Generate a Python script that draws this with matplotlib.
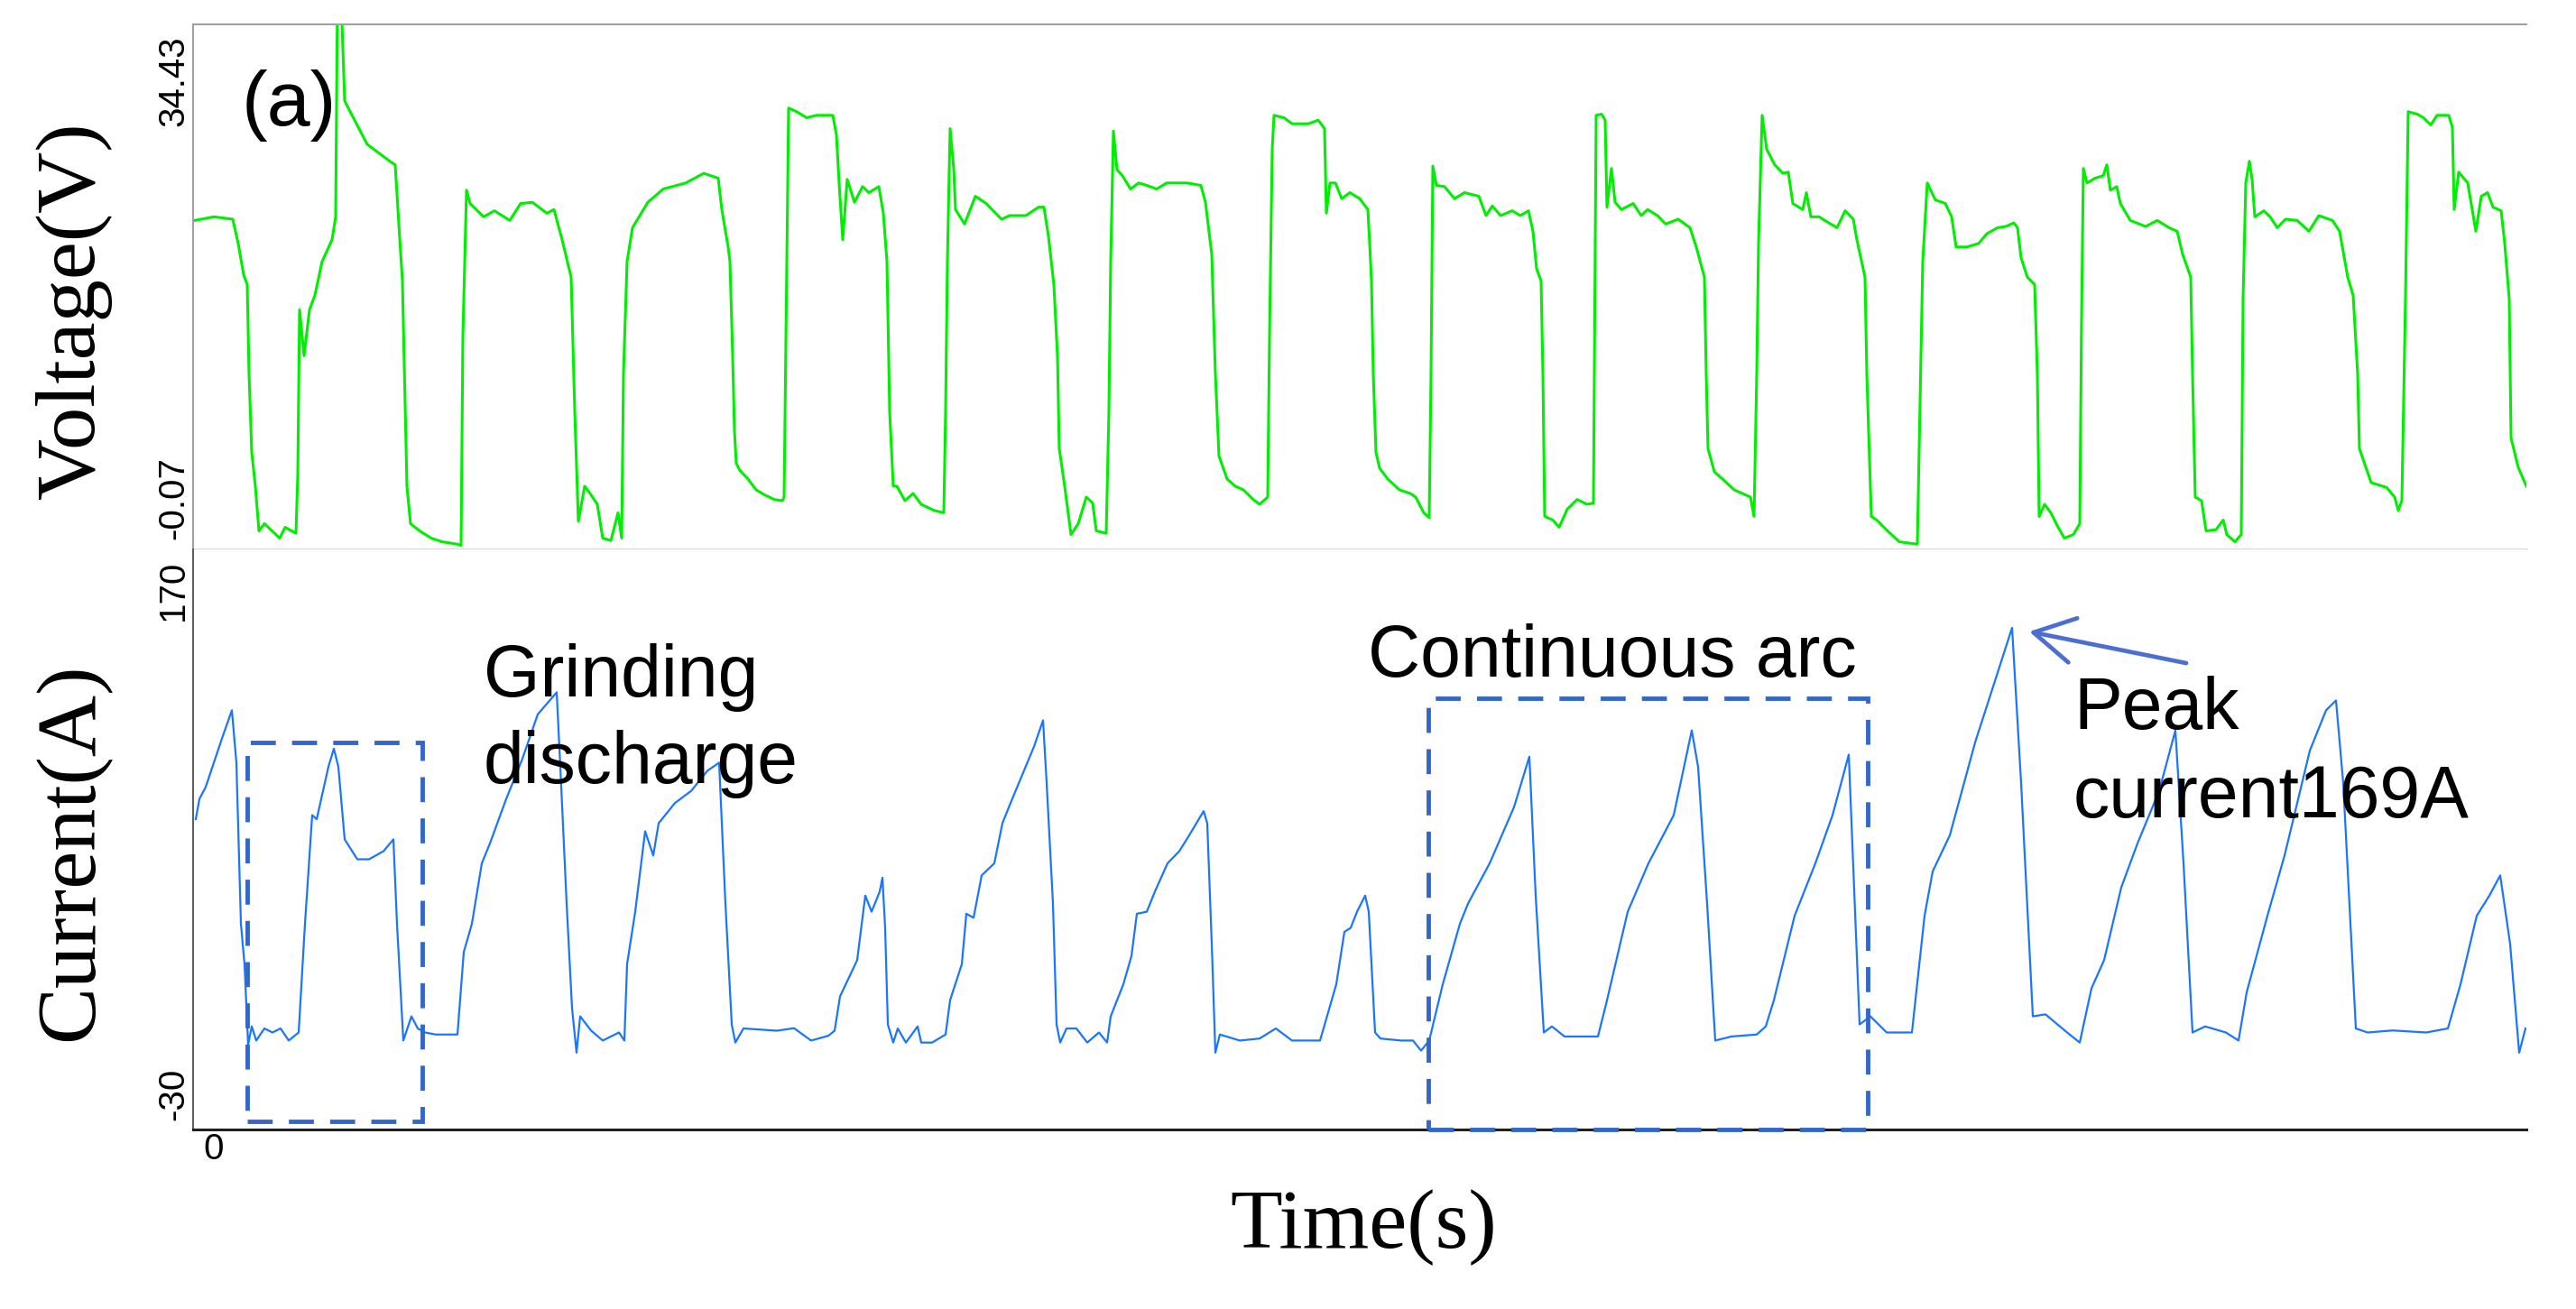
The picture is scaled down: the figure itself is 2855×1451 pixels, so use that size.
import matplotlib.pyplot as plt
from matplotlib.patches import Rectangle

W, H = 2855, 1451

# voltage trace, time in ms
v_time = [-2.1, 0.0, 2.1, 2.7, 3.3, 3.7, 3.9, 4.2, 4.6, 5.0, 5.6, 7.3, 7.9, 9.1, 9.3, 9.5, 10.0,
          10.6, 11.2, 12.0, 13.1, 13.5, 13.7, 14.1, 14.5, 14.9, 17.0, 19.5, 20.1, 20.5, 20.9, 21.4,
          21.8, 22.8, 24.1, 25.3, 27.0, 27.4, 27.6, 28.0, 28.4, 29.9, 31.1, 32.8, 34.0, 35.3, 36.9,
          37.7, 38.6, 39.6, 40.0, 40.4, 41.1, 41.7, 42.5, 43.1, 44.0, 44.8, 45.2, 45.4, 45.8, 46.4,
          48.1, 49.8, 52.3, 54.3, 55.9, 56.3, 57.0, 57.2, 57.5, 57.7, 57.9, 58.3, 59.2, 60.1, 61.0,
          62.1, 63.0, 63.2, 63.5, 63.7, 64.6, 65.7, 66.8, 68.6, 69.0, 69.3, 69.7, 70.2, 71.0, 71.9,
          72.6, 73.7, 74.2, 74.6, 74.9, 75.3, 75.7, 76.6, 77.5, 78.4, 79.8, 80.9, 81.1, 81.3, 81.6,
          82.0, 82.2, 83.2, 84.4, 85.6, 87.3, 88.2, 90.0, 91.4, 92.0, 92.5, 93.1, 93.5, 93.7, 94.3,
          95.0, 95.8, 96.7, 97.4, 97.8, 98.9, 99.2, 99.4, 99.7, 100.1, 100.7, 101.6, 102.5, 103.4,
          104.5, 105.6, 107.9, 109.4, 109.9, 110.6, 111.0, 111.4, 112.3, 113.2, 114.1, 115.2, 115.9,
          116.8, 117.0, 117.3, 117.5, 118.6, 119.5, 121.3, 122.4, 123.1, 123.3, 123.7, 124.3, 125.0,
          125.9, 127.0, 127.9, 128.1, 128.3, 128.5, 128.8, 129.2, 130.1, 131.4, 132.6, 133.2, 134.1,
          134.7, 134.9, 135.1, 135.5, 136.4, 137.5, 138.6, 140.2, 141.0, 141.7, 142.6, 143.9, 144.8,
          145.7, 146.2, 146.6, 147.1, 147.3, 147.5, 148.4, 149.1, 150.0, 151.1, 152.2, 152.9, 153.0,
          153.2, 153.8, 154.2, 154.4, 154.9, 155.3, 156.0, 157.3, 158.2, 158.9, 160.0, 160.9, 162.3,
          163.6, 164.3, 165.2, 165.4, 165.6, 166.3, 167.2, 168.5, 169.4, 170.3, 170.7, 171.0, 171.2,
          171.6, 172.1, 173.0, 173.9, 174.5, 175.0, 176.1, 176.5, 177.0, 177.9, 179.2, 179.9, 180.8,
          181.7, 182.1, 183.0, 183.2, 183.7, 184.3, 185.5, 186.8, 188.8, 189.0, 189.4, 189.9, 190.8,
          191.9, 192.6, 193.1, 194.3, 195.6, 196.5, 197.7, 198.6, 199.5, 199.9, 200.3, 201.0, 201.8,
          202.1, 202.3, 202.9, 203.6, 204.4, 205.1, 206.1, 206.8, 207.0, 207.2, 207.6, 208.5, 209.4,
          209.8, 210.2, 210.9, 211.3, 212.4, 214.1, 215.4, 216.7, 217.6, 218.2, 219.1, 219.3, 219.6,
          220.3, 220.8, 221.9, 222.7, 223.1, 224.0, 224.7, 224.9, 225.2, 225.6, 225.9, 226.2, 227.2,
          227.9, 228.7, 229.6, 230.9, 232.2, 233.3, 234.8, 235.6, 236.5, 237.1, 237.6, 237.8, 239.1,
          240.8, 241.7, 242.1, 242.5, 242.9, 243.2, 244.2, 244.9, 245.7, 246.4, 247.7, 248.1, 248.3,
          248.8, 249.8, 250.7, 251.3, 252.0, 252.6, 253.5, 253.9, 254.4, 254.6, 255.4, 256.3]
voltage = [22.9, 23.2, 23.0, 21.0, 18.4, 17.6, 10.2, 3.7, 0.9, -2.8, -2.2, -3.4, -2.5, -3.0, 1.8,
           15.5, 11.7, 15.5, 16.7, 19.5, 21.3, 23.2, 41.5, 41.5, 32.8, 32.2, 29.2, 27.8, 27.5, 22.6,
           17.9, 0.9, -2.2, -2.8, -3.4, -3.7, -3.9, -4.0, 13.3, 25.4, 24.3, 23.2, 23.7, 22.9, 24.3,
           24.4, 23.5, 23.8, 21.3, 18.2, 7.1, -2.0, 0.9, 0.3, -0.6, -3.4, -3.6, -1.3, -3.4, 10.2,
           19.5, 22.3, 24.4, 25.5, 26.0, 26.8, 26.4, 23.8, 20.7, 19.5, 11.7, 5.5, 2.8, 2.2, 1.5,
           0.6, 0.2, -0.2, -0.3, 0.0, 19.5, 32.2, 31.9, 31.4, 31.6, 31.6, 30.0, 26.0, 21.3, 26.3,
           24.4, 25.7, 25.2, 25.7, 23.5, 19.5, 7.1, 0.9, 0.9, -0.3, 0.3, -0.6, -1.1, -1.3, 7.1,
           19.5, 30.5, 27.2, 23.8, 22.6, 24.9, 24.3, 23.0, 23.3, 23.3, 24.0, 24.0, 21.6, 17.6, 11.7,
           4.0, 0.9, -3.1, -2.2, 0.0, -0.5, -2.8, -3.0, 7.1, 19.5, 30.3, 27.1, 26.6, 25.5, 26.0,
           25.8, 25.5, 26.0, 26.0, 25.8, 24.4, 20.1, 10.2, 3.4, 1.5, 0.9, 0.6, -0.2, -0.6, 0.0,
           13.3, 28.8, 31.6, 31.4, 30.9, 30.9, 31.2, 30.5, 23.5, 26.0, 26.0, 24.7, 25.2, 24.7, 23.8,
           21.0, 17.9, 10.2, 3.7, 2.4, 1.5, 0.6, 0.3, 0.0, -1.3, -1.7, 10.2, 27.4, 25.8, 25.7, 24.7,
           25.2, 24.9, 23.3, 24.1, 23.3, 23.7, 23.3, 23.7, 22.0, 18.9, 17.9, 10.2, -1.6, -1.9, -2.5,
           -1.0, -0.2, -0.6, -0.5, 10.2, 31.6, 31.7, 31.2, 24.0, 27.2, 24.4, 23.8, 24.3, 23.3, 23.8,
           23.3, 22.6, 23.0, 22.3, 20.7, 18.2, 10.2, 4.0, 2.1, 1.5, 0.6, 0.3, 0.0, -1.6, 10.2, 21.0,
           31.6, 28.8, 27.5, 26.8, 26.9, 24.3, 23.8, 25.2, 23.2, 23.2, 22.6, 22.3, 23.7, 23.0, 21.3,
           18.2, 10.2, -1.6, -1.9, -2.8, -3.7, -3.9, 4.0, 19.5, 26.0, 24.6, 24.3, 23.2, 20.7, 20.7,
           21.0, 21.8, 22.3, 22.4, 22.7, 22.3, 19.8, 18.2, 17.6, 10.2, -1.6, -0.6, -1.3, -2.5, -3.4,
           -3.1, -2.2, 14.8, 27.2, 26.0, 26.4, 26.6, 27.5, 25.4, 25.7, 24.3, 22.9, 22.4, 22.9, 22.3,
           22.0, 20.1, 18.2, 10.2, 0.0, -0.3, -2.8, -2.7, -1.9, -3.1, -3.7, -3.1, 16.4, 26.0, 27.8,
           26.3, 23.2, 23.7, 23.2, 22.3, 23.0, 22.9, 22.0, 23.3, 22.9, 22.0, 18.2, 16.7, 10.2, 4.0,
           1.2, 0.8, 0.0, -1.1, -0.3, 16.4, 31.9, 31.7, 31.4, 30.8, 31.6, 31.6, 30.6, 23.8, 26.9,
           26.0, 22.0, 24.9, 25.2, 24.0, 23.7, 21.0, 16.4, 4.9, 2.45, 0.9]

# current trace
c_time = [-2.0, -1.6, -0.9, 0.0, 0.9, 2.0, 2.5, 3.0, 3.4, 3.8, 4.2, 4.7, 5.6, 6.5, 7.4, 8.3, 9.4,
          10.1, 10.9, 11.4, 12.1, 12.7, 13.3, 13.8, 14.5, 15.9, 17.2, 18.8, 19.9, 20.3, 21.0, 21.9,
          22.6, 23.4, 24.6, 27.0, 27.7, 28.6, 29.7, 30.6, 32.4, 34.2, 35.9, 38.0, 38.4, 39.1, 39.7,
          40.2, 40.6, 41.8, 43.1, 44.9, 45.5, 45.8, 46.7, 47.8, 48.7, 49.3, 51.1, 52.9, 54.7, 56.0,
          56.7, 57.4, 57.8, 58.7, 62.4, 64.3, 66.2, 68.1, 68.8, 69.4, 71.3, 72.2, 72.9, 73.8, 74.1,
          74.4, 74.7, 75.3, 75.8, 76.7, 78.0, 78.4, 79.6, 81.1, 81.6, 82.9, 83.4, 84.2, 85.1, 86.5,
          87.4, 88.3, 89.6, 90.9, 91.9, 92.3, 93.0, 93.4, 93.8, 94.5, 95.6, 96.8, 98.1, 99.0, 99.4,
          100.8, 101.7, 102.3, 103.4, 104.3, 105.7, 107.0, 108.1, 109.7, 110.1, 110.6, 111.0, 111.5,
          113.7, 115.9, 117.7, 119.5, 122.6, 123.5, 124.4, 125.3, 126.0, 126.7, 127.6, 128.0, 128.7,
          129.3, 131.6, 132.9, 133.8, 134.7, 136.2, 138.1, 139.0, 141.4, 144.1, 145.8, 146.5, 147.4,
          148.3, 149.7, 153.4, 154.3, 156.7, 159.0, 161.8, 163.8, 164.5, 165.5, 166.4, 168.2, 171.0,
          172.0, 172.9, 175.2, 177.5, 179.4, 181.2, 182.4, 183.6, 185.4, 188.2, 189.6, 190.5, 192.4,
          195.2, 199.3, 200.3, 201.6, 203.0, 205.4, 206.8, 208.1, 209.5, 211.4, 213.2, 215.6, 217.4,
          218.3, 219.3, 220.7, 223.0, 224.4, 225.3, 227.6, 229.5, 232.3, 234.1, 235.2, 236.0, 237.4,
          238.7, 241.5, 245.2, 247.6, 249.0, 250.8, 252.2, 253.4, 254.5, 255.5, 256.2]
current = [79.1, 87.1, 91.9, 101.5, 111.1, 122.3, 101.5, 37.6, 21.6, -10.3, -3.1, -8.7, -3.9, -5.5,
           -3.9, -8.7, -5.5, 37.6, 80.7, 79.1, 90.3, 99.9, 107.1, 99.9, 71.1, 63.2, 63.2, 66.4, 71.1,
           37.6, -8.7, 0.9, -3.9, -5.5, -6.3, -6.3, 26.4, 37.6, 61.6, 69.5, 87.1, 103.1, 120.7, 129.4,
           99.9, 45.6, 4.1, -13.5, 0.9, -4.7, -8.7, -5.5, -8.7, 21.6, 42.4, 74.3, 64.7, 77.5, 85.5,
           90.3, 98.3, 101.5, 45.6, -2.3, -9.5, -3.9, -4.8, -3.8, -8.7, -6.8, -4.8, 8.8, 23.2, 48.8,
           42.4, 50.4, 55.9, 36.0, -2.3, -9.5, -3.9, -9.5, -3.1, -9.5, -9.5, -6.3, 7.3, 21.6, 41.6,
           40.0, 56.8, 61.6, 77.5, 85.5, 96.7, 107.9, 118.3, 93.5, 45.6, -2.3, -9.5, -3.9, -3.9, -9.5,
           -5.5, -9.5, 0.9, 13.6, 24.8, 41.6, 42.4, 50.4, 61.6, 66.4, 72.7, 82.3, 77.5, 29.6, -13.5,
           -6.3, -8.7, -7.9, -3.9, -8.7, -8.7, 2.5, 13.6, 34.4, 36.0, 42.4, 48.8, 42.4, -5.5, -7.9,
           -8.7, -8.7, -12.7, -8.7, 13.6, 37.6, 45.6, 61.6, 83.9, 103.9, 48.8, -5.5, -3.1, -7.1, -7.1,
           5.7, 42.4, 61.6, 80.7, 114.3, 99.9, 45.6, -8.7, -7.1, -6.3, -3.1, 7.3, 40.8, 61.6, 80.7,
           104.7, -2.3, 0.9, -5.5, -5.5, 40.8, 58.4, 72.7, 109.5, 155.0, 93.5, 0.9, 1.7, -5.5, -9.5,
           12.0, 23.2, 52.0, 69.5, 90.3, 114.3, 61.6, -5.5, -3.1, -5.5, -8.7, 10.4, 40.8, 64.7, 106.3,
           122.3, 126.2, 93.5, -3.9, -5.5, -4.7, -5.5, -3.9, 13.6, 40.8, 48.8, 56.8, 29.6, -13.5, -3.9]

# dashed boxes (t0, t1, i0, i1)
grind_box = (3.7, 23.1, -40.7, 109.5)
arc_box = (134.6, 183.3, -43.8, 127.0)

fig = plt.figure(figsize=(W / 100, H / 100), dpi=100)
fig.patch.set_facecolor('white')

ax1 = fig.add_axes([214 / W, 1 - 609 / H, 2586 / W, 582 / H])
ax2 = fig.add_axes([214 / W, 1 - 1252 / H, 2586 / W, 643 / H])

ax1.plot(v_time, voltage, color='#00EE00', lw=2.2)
ax2.plot(c_time, current, color='#1A75FF', lw=1.6)

for ax in (ax1, ax2):
    ax.set_xlim(-2.3, 256.3)
    ax.spines['right'].set_visible(False)
    ax.tick_params(axis='both', length=0, labelsize=29, pad=2)

ax1.set_ylim(-4.33, 39.13)
ax1.set_yticks([34.43, -0.07], ['34.43', '-0.07'], rotation=90, va='center',
               family='Liberation Sans', fontsize=29)
ax1.set_xticks([])
ax1.spines['top'].set_color('#A0A0A0')
ax1.spines['left'].set_color('#A0A0A0')
ax1.spines['bottom'].set_color('#D4D4D4')
for s in ('top', 'left', 'bottom'):
    ax1.spines[s].set_linewidth(1.5)

ax2.set_ylim(-43.97, 186.1)
ax2.set_yticks([170, -30], ['170', '-30'], rotation=90, va='center',
               family='Liberation Sans', fontsize=29)
ax2.set_xticks([0], ['0'], family='Liberation Sans', fontsize=29)
ax2.spines['top'].set_visible(False)
ax2.spines['left'].set_color('#606060')
ax2.spines['left'].set_linewidth(1.5)
ax2.spines['bottom'].set_color('#202020')
ax2.spines['bottom'].set_linewidth(2.2)

box_style = dict(fill=False, edgecolor='#3366CC', lw=3.5, linestyle=(0, (5.7, 3.7)),
                 clip_on=False, zorder=5)
for t0, t1, i0, i1 in (grind_box, arc_box):
    ax2.add_patch(Rectangle((t0, i0), t1 - t0, i1 - i0, **box_style))

sans = dict(family='Liberation Sans', fontsize=58, color='black')
ax2.text(29.9, 127.8, 'Grinding', va='baseline', **sans)
ax2.text(29.9, 93.5, 'discharge', va='baseline', **sans)
ax2.text(127.9, 135.5, 'Continuous arc', va='baseline', **sans)
ax2.text(206.1, 115.0, 'Peak', va='baseline', **sans)
ax2.text(206.1, 79.8, 'current169A', va='baseline', **sans)
ax2.annotate('', xy=(201.2, 153.5), xytext=(218.6, 141.0),
             arrowprops=dict(arrowstyle='->,head_length=3.2,head_width=1.8',
                             color='#4A6FD0', lw=3.4, shrinkA=0, shrinkB=0))

ax1.text(3.1, 30.8, '(a)', va='baseline', family='Liberation Sans', fontsize=62)

serif = dict(family='Liberation Serif', fontsize=68, color='black')
fig.text(82 / W, 1 - 344 / H, 'Voltage(V)', rotation=90, ha='center', va='center', **serif)
fig.text(80 / W, 1 - 944 / H, 'Current(A)', rotation=90, ha='center', va='center', **serif)
fig.text(1511 / W, 1 - 1361 / H, 'Time(s)', ha='center', va='center', **serif)

fig.savefig('out.png', dpi=100, facecolor='white')
